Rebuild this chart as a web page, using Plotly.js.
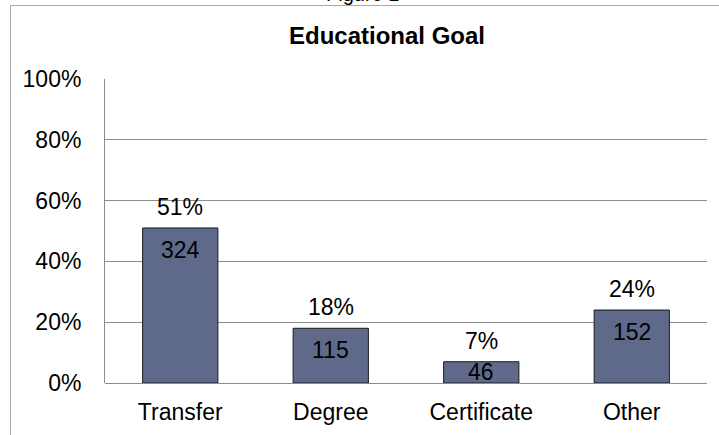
<!DOCTYPE html>
<html>
<head>
<meta charset="utf-8">
<script src="https://cdn.plot.ly/plotly-3.0.1.min.js"></script>
<style>
  html, body { margin: 0; padding: 0; background: #fff; overflow: hidden; }
  #wrap { position: relative; width: 719px; height: 435px; }
  #chart { position: absolute; left: 0; top: 0; width: 719px; height: 435px; }
  #frame { position: absolute; left: 10px; top: 5px; width: 760px; height: 480px;
           border: 1px solid #a8a8a8; pointer-events: none; }
</style>
</head>
<body>
<div id="wrap">
  <div id="chart"></div>
  <div id="frame"></div>
</div>
<script>
const categories = ["Transfer", "Degree", "Certificate", "Other"];
const percents = [51, 18, 7, 24];
const counts = [324, 115, 46, 152];
const yTickVals = [0, 20, 40, 60, 80, 100];
const yTickText = ["0%", "20%", "40%", "60%", "80%", "100%"];

const FONT = "Liberation Sans, Arial, sans-serif";
const plotTop = 79, plotBottom = 383;
const pxPerUnit = (plotBottom - plotTop) / 100;

const annotations = [];
categories.forEach((c, i) => {
  annotations.push({
    x: c, y: percents[i], xref: "x", yref: "y",
    text: percents[i] + "%", showarrow: false,
    yanchor: "middle", yshift: 21,
    font: { family: FONT, size: 23, color: "#000" }
  });
  const hpx = percents[i] * pxPerUnit;
  annotations.push({
    x: c, y: percents[i], xref: "x", yref: "y",
    text: String(counts[i]), showarrow: false,
    yanchor: "middle", yshift: -Math.min(22, hpx / 2),
    font: { family: FONT, size: 23, color: "#000" }
  });
});
annotations.push({
  x: (362 - 105) / 602, y: (383 + 6) / 304, xref: "paper", yref: "paper",
  text: "Figure 1", showarrow: false, yanchor: "middle",
  font: { family: FONT, size: 20, color: "#000" }
});

const trace = {
  type: "bar",
  x: categories,
  y: percents,
  width: 0.5,
  marker: { color: "#5f6a8b", line: { color: "#1a1a1a", width: 1 } },
  hoverinfo: "skip"
};

const layout = {
  width: 719, height: 435,
  margin: { l: 105, r: 12, t: 79, b: 52 },
  paper_bgcolor: "#fff", plot_bgcolor: "#fff",
  showlegend: false,
  title: {
    text: "<b>Educational Goal</b>",
    xref: "container", x: 387 / 719, xanchor: "center",
    yref: "container", y: 1 - 36 / 435, yanchor: "middle",
    font: { family: FONT, size: 24, color: "#000" }
  },
  xaxis: {
    type: "category",
    showgrid: false, zeroline: false,
    showline: false,
    ticks: "", ticklabelstandoff: 13,
    tickfont: { family: FONT, size: 23, color: "#000" },
    fixedrange: true
  },
  yaxis: {
    range: [0, 100],
    tickvals: yTickVals, ticktext: yTickText,
    showgrid: true, gridcolor: "#8c8c8c", gridwidth: 1,
    zeroline: true, zerolinecolor: "#8c8c8c", zerolinewidth: 1,
    showline: true, linecolor: "#8c8c8c", linewidth: 1,
    ticks: "", ticklabelstandoff: 18,
    tickfont: { family: FONT, size: 23, color: "#000" },
    fixedrange: true
  },
  annotations: annotations
};

Plotly.newPlot("chart", [trace], layout, { displayModeBar: false, staticPlot: true });
</script>
</body>
</html>
